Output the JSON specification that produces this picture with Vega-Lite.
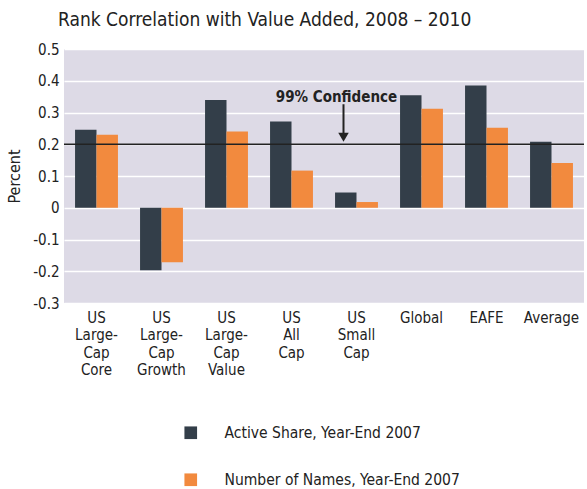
{
  "$schema": "https://vega.github.io/schema/vega-lite/v6.json",
  "autosize": {"type": "none"},
  "width": 520,
  "height": 254,
  "padding": {"left": 64, "top": 49, "right": 3, "bottom": 186},
  "background": "white",
  "config": {
    "font": "DejaVu Sans Condensed, sans-serif",
    "view": {"fill": "#dddae6", "stroke": null},
    "axis": {"labelOverlap": false},
    "axisY": {
      "labelOverlap": false,
      "labelFlush": false,
      "ticks": false,
      "domain": false,
      "grid": true,
      "gridColor": "#ffffff",
      "gridWidth": 1.5,
      "gridOpacity": 1,
      "labelFontSize": 15,
      "labelColor": "#222222",
      "labelPadding": 5
    }
  },
  "title": {
    "text": "Rank Correlation with Value Added, 2008 – 2010",
    "anchor": "start",
    "frame": "group",
    "fontSize": 19,
    "fontWeight": "normal",
    "color": "#222222",
    "dx": -6,
    "offset": 12
  },
  "datasets": {
    "bars": [
      {"category": "US Large-Cap Core", "series": "Active Share, Year-End 2007", "value": 0.246},
      {"category": "US Large-Cap Core", "series": "Number of Names, Year-End 2007", "value": 0.230},
      {"category": "US Large-Cap Growth", "series": "Active Share, Year-End 2007", "value": -0.197},
      {"category": "US Large-Cap Growth", "series": "Number of Names, Year-End 2007", "value": -0.172},
      {"category": "US Large-Cap Value", "series": "Active Share, Year-End 2007", "value": 0.339},
      {"category": "US Large-Cap Value", "series": "Number of Names, Year-End 2007", "value": 0.240},
      {"category": "US All Cap", "series": "Active Share, Year-End 2007", "value": 0.272},
      {"category": "US All Cap", "series": "Number of Names, Year-End 2007", "value": 0.117},
      {"category": "US Small Cap", "series": "Active Share, Year-End 2007", "value": 0.048},
      {"category": "US Small Cap", "series": "Number of Names, Year-End 2007", "value": 0.018},
      {"category": "Global", "series": "Active Share, Year-End 2007", "value": 0.354},
      {"category": "Global", "series": "Number of Names, Year-End 2007", "value": 0.312},
      {"category": "EAFE", "series": "Active Share, Year-End 2007", "value": 0.385},
      {"category": "EAFE", "series": "Number of Names, Year-End 2007", "value": 0.252},
      {"category": "Average", "series": "Active Share, Year-End 2007", "value": 0.208},
      {"category": "Average", "series": "Number of Names, Year-End 2007", "value": 0.141}
    ],
    "threshold": [{"level": 0.2}],
    "note": [{"category": "US Small Cap", "label": "99% Confidence", "textY": 0.332, "arrowTop": 0.326, "arrowBottom": 0.232, "headY": 0.222}]
  },
  "encoding": {
    "x": {
      "field": "category",
      "type": "nominal",
      "sort": null,
      "scale": {
        "domain": ["US Large-Cap Core", "US Large-Cap Growth", "US Large-Cap Value", "US All Cap", "US Small Cap", "Global", "EAFE", "Average"],
        "paddingInner": 0.34,
        "paddingOuter": 0.17
      },
      "axis": {
        "title": null,
        "labelAngle": 0,
        "labelExpr": "split(replace(datum.label, '-', '- '), ' ')",
        "labelFontSize": 15,
        "labelLineHeight": 17.5,
        "labelColor": "#222222",
        "labelPadding": 7,
        "labelOverlap": false,
        "ticks": false,
        "domain": false,
        "grid": false
      }
    }
  },
  "layer": [
    {
      "data": {"name": "bars"},
      "mark": {"type": "bar"},
      "encoding": {
        "xOffset": {"field": "series", "type": "nominal", "scale": {"paddingInner": 0, "paddingOuter": 0}},
        "y": {
          "field": "value",
          "type": "quantitative",
          "scale": {"domain": [-0.3, 0.5], "nice": false, "zero": false},
          "axis": {
            "title": "Percent",
            "titleFontSize": 16,
            "titleFontWeight": "normal",
            "titleColor": "#222222",
            "titlePadding": 10,
            "tickCount": 12,
            "values": [-0.3, -0.2, -0.1, 0, 0.1, 0.2, 0.3, 0.4, 0.5],
            "labelExpr": "datum.value == 0 ? '0' : (datum.value < 0 ? '-' + format(-datum.value, '.1f') : format(datum.value, '.1f'))"
          }
        },
        "color": {
          "field": "series",
          "type": "nominal",
          "scale": {"range": ["#333e49", "#f28a3e"]},
          "legend": {
            "title": null,
            "orient": "none",
            "direction": "vertical",
            "legendX": 119,
            "legendY": 376,
            "padding": 0,
            "symbolType": "square",
            "symbolSize": 160,
            "symbolStrokeWidth": 0,
            "symbolOpacity": 1,
            "labelFontSize": 15.5,
            "labelColor": "#222222",
            "labelOffset": 26,
            "labelLimit": 0,
            "rowPadding": 30
          }
        }
      }
    },
    {
      "data": {"name": "threshold"},
      "mark": {"type": "rule", "color": "#222222", "strokeWidth": 1.5},
      "encoding": {"y": {"field": "level", "type": "quantitative"}, "x": null}
    },
    {
      "data": {"name": "note"},
      "mark": {"type": "text", "fontSize": 15, "fontWeight": 600, "color": "#222222", "baseline": "alphabetic", "align": "center", "xOffset": -20},
      "encoding": {"y": {"field": "textY", "type": "quantitative"}, "text": {"field": "label"}}
    },
    {
      "data": {"name": "note"},
      "mark": {"type": "rule", "color": "#222222", "strokeWidth": 2, "xOffset": -13},
      "encoding": {"y": {"field": "arrowTop", "type": "quantitative"}, "y2": {"field": "arrowBottom"}}
    },
    {
      "data": {"name": "note"},
      "mark": {"type": "point", "shape": "triangle-down", "filled": true, "color": "#222222", "opacity": 1, "size": 110, "xOffset": -13},
      "encoding": {"y": {"field": "headY", "type": "quantitative"}}
    }
  ]
}
